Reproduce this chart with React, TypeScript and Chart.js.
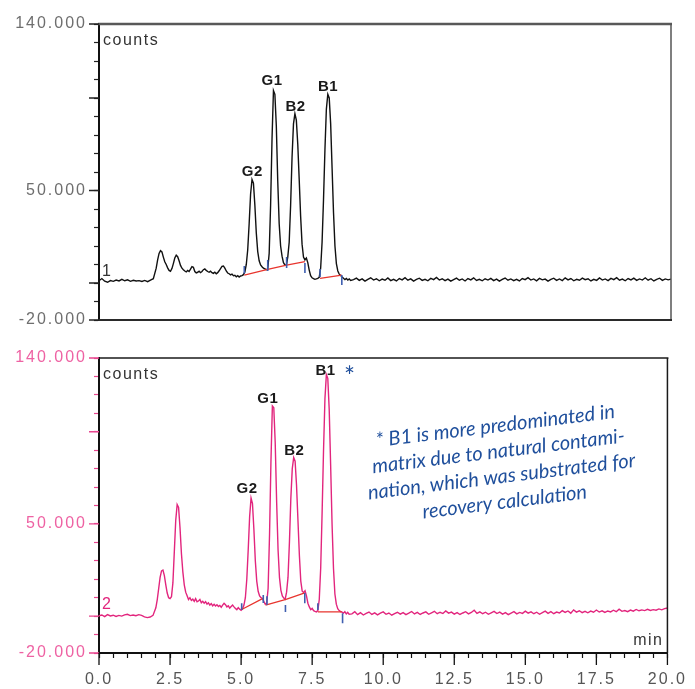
import React, { useEffect, useRef } from "react";
import { Chart, registerables } from "chart.js";

Chart.register(...registerables);

// Retention time (min) of every sampled point
const timeMin = [
  0, 0.1, 0.2, 0.3, 0.4, 0.5, 0.6, 0.7, 0.8, 0.9, 1, 1.1, 1.2, 1.3, 1.4, 1.5, 1.6, 1.7, 1.8, 1.9,
  2, 2.05, 2.1, 2.15, 2.2, 2.25, 2.3, 2.35, 2.4, 2.45,
  2.5, 2.55, 2.6, 2.65, 2.7, 2.75, 2.8, 2.85, 2.9, 2.95,
  3, 3.05, 3.1, 3.15, 3.2, 3.25, 3.3, 3.35, 3.4, 3.45,
  3.5, 3.55, 3.6, 3.65, 3.7, 3.75, 3.8, 3.85, 3.9, 3.95,
  4, 4.05, 4.1, 4.15, 4.2, 4.25, 4.3, 4.35, 4.4, 4.45,
  4.5, 4.55, 4.6, 4.65, 4.7, 4.75, 4.8, 4.85, 4.9, 4.95,
  5, 5.05, 5.1, 5.15, 5.2, 5.25, 5.3, 5.35, 5.4, 5.45,
  5.5, 5.55, 5.6, 5.65, 5.7, 5.75, 5.8, 5.85, 5.9, 5.95,
  6, 6.05, 6.1, 6.15, 6.2, 6.25, 6.3, 6.35, 6.4, 6.45,
  6.5, 6.55, 6.6, 6.65, 6.7, 6.75, 6.8, 6.85, 6.9, 6.95,
  7, 7.05, 7.1, 7.15, 7.2, 7.25, 7.3, 7.35, 7.4, 7.45,
  7.5, 7.55, 7.6, 7.65, 7.7, 7.75, 7.8, 7.85, 7.9, 7.95,
  8, 8.05, 8.1, 8.15, 8.2, 8.25, 8.3, 8.35, 8.4, 8.45,
  8.5, 8.55, 8.6, 8.65, 8.7, 8.75, 8.8,
  8.9,
  9, 9.1, 9.2, 9.3, 9.4, 9.5, 9.6, 9.7, 9.8, 9.9,
  10, 10.1, 10.2, 10.3, 10.4, 10.5, 10.6, 10.7, 10.8, 10.9,
  11, 11.1, 11.2, 11.3, 11.4, 11.5, 11.6, 11.7, 11.8, 11.9,
  12, 12.1, 12.2, 12.3, 12.4, 12.5, 12.6, 12.7, 12.8, 12.9,
  13, 13.1, 13.2, 13.3, 13.4, 13.5, 13.6, 13.7, 13.8, 13.9,
  14, 14.1, 14.2, 14.3, 14.4, 14.5, 14.6, 14.7, 14.8, 14.9,
  15, 15.1, 15.2, 15.3, 15.4, 15.5, 15.6, 15.7, 15.8, 15.9,
  16, 16.1, 16.2, 16.3, 16.4, 16.5, 16.6, 16.7, 16.8, 16.9,
  17, 17.1, 17.2, 17.3, 17.4, 17.5, 17.6, 17.7, 17.8, 17.9,
  18, 18.1, 18.2, 18.3, 18.4, 18.5, 18.6, 18.7, 18.8, 18.9,
  19, 19.1, 19.2, 19.3, 19.4, 19.5, 19.6, 19.7, 19.8, 19.9,
  20,
];

// Trace 1 (standard), counts in thousands
const trace1Kcounts = [
  1.2, 2.4, 1.0, 0.4, 1.3, 0.9, 1.6, 1.1, 2.0, 1.2, 1.7, 0.9, 1.5, 1.1, 1.3, 0.8, 1.4, 0.7, 1.6, 2.3,
  8.0, 12.5, 16.0, 17.5, 16.8, 14.0, 11.5, 10.0, 8.2, 6.8,
  6.3, 7.8, 10.5, 13.5, 15.0, 14.2, 12.0, 9.5, 8.0, 7.2,
  6.5, 6.0, 6.8, 6.2, 7.5, 8.8, 8.5, 6.2, 5.5, 5.8,
  6.4, 5.6, 6.2, 7.2, 7.6, 6.8, 6.2, 5.8, 6.4, 5.6,
  5.2, 5.8, 5.0, 5.6, 6.6, 7.8, 9.0, 9.2, 8.0, 6.5,
  5.4, 5.0, 4.4, 4.8, 3.9, 4.2, 3.4, 4.0, 3.2, 3.8,
  4.0, 4.5, 6.0, 10.0, 18.0, 32.0, 48.0, 56.0, 54.0, 42.0,
  27.0, 17.0, 12.0, 9.8, 8.8, 8.0, 7.6, 7.2, 7.5, 16.0,
  42.0, 78.0, 104.0, 102.0, 85.0, 55.0, 32.0, 20.0, 14.5, 11.0,
  9.8, 9.5, 14.0, 22.0, 42.0, 68.0, 86.0, 91.5, 88.0, 75.0,
  56.0, 36.0, 21.0, 14.0, 12.5, 13.5, 11.0, 7.0, 4.0, 2.8,
  2.4, 2.0, 2.2, 2.5, 3.0, 8.0, 22.0, 45.0, 72.0, 94.0,
  102.0, 100.0, 86.0, 62.0, 38.0, 20.0, 10.5, 6.5, 4.8, 4.0,
  3.2, 2.6, 1.8, 2.4, 1.6, 2.2, 1.4,
  1.8,
  2.6, 1.4, 2.2, 1.0, 2.0, 2.8, 1.6, 2.3, 1.2, 2.1,
  1.5, 2.7, 1.3, 2.0, 1.1, 2.4, 1.7, 2.9, 1.5, 2.2,
  1.0, 1.9, 2.6, 1.4, 2.0, 1.2, 2.5, 1.8, 3.0, 1.6,
  2.3, 1.3, 2.1, 1.0, 1.8, 2.6, 1.5, 2.2, 1.1, 2.4,
  1.7, 2.8, 1.4, 2.0, 1.2, 2.3, 1.6, 2.5, 1.3, 2.1,
  1.0, 1.9, 2.7, 1.5, 2.2, 1.3, 2.0, 1.1, 2.4, 1.8,
  2.9, 1.6, 2.2, 1.2, 2.5, 1.7, 2.1, 1.0, 1.9, 2.6,
  1.4, 2.2, 1.3, 2.8, 1.7, 2.4, 1.2, 2.0, 1.5, 2.6,
  1.8, 2.3, 1.1, 2.0, 1.4, 2.7, 1.6, 2.2, 1.3, 2.5,
  1.8, 2.9, 1.5, 2.1, 1.2, 2.4, 1.7, 2.6, 1.4, 2.2,
  1.6, 2.8, 1.5, 2.3, 1.1, 2.0, 2.6, 1.4, 2.2, 1.7,
  2.1,
];

// Trace 2 (spiked matrix), counts in thousands
const trace2Kcounts = [
  0.2, 0.6, -0.3, 0.8, 0.1, 0.5, -0.2, 0.4, 0.0, 0.7, 1.0, 0.3, 0.6, 0.2, 0.8, 0.4, -0.4, -0.8, -0.5, 0.4,
  4.5, 9.0, 15.0, 21.0, 24.5, 25.0, 22.0, 17.0, 12.5, 10.0,
  9.5, 10.5, 18.0, 35.0, 52.0, 60.5, 59.0, 48.0, 34.0, 24.0,
  17.0, 13.0, 11.0, 9.0, 10.0, 8.5, 9.2, 8.0, 9.5, 7.8,
  8.2, 9.0, 7.2, 8.0, 7.0, 7.8, 6.5, 7.2, 6.0, 6.8,
  5.6, 6.4, 5.5, 6.2, 5.2, 5.8, 4.8, 6.0, 7.0, 6.2,
  5.0, 5.6, 4.4, 5.2, 6.0, 5.0, 4.2, 3.5, 4.6, 3.8,
  3.2, 4.0, 6.0, 10.0, 20.0, 36.0, 54.0, 64.0, 61.0, 47.0,
  30.0, 19.0, 13.5, 11.0, 10.0, 9.6, 8.0, 6.5, 7.0, 15.0,
  44.0, 84.0, 114.0, 113.0, 94.0, 62.0, 36.0, 21.0, 14.0, 11.0,
  9.8, 9.2, 13.0, 21.0, 40.0, 64.0, 80.0, 86.0, 84.0, 71.0,
  52.0, 33.0, 19.0, 13.5, 12.8, 13.8, 11.0, 7.0, 5.0, 3.5,
  4.2, 3.0, 2.6, 2.3, 3.0, 9.0, 26.0, 56.0, 90.0, 118.0,
  131.0, 129.0, 112.0, 82.0, 50.0, 26.0, 12.0, 6.5, 4.0, 3.0,
  2.5, 2.2, 1.6, 2.4, 1.2, 2.0, 1.0,
  1.2,
  2.4, 0.8, 1.9, 0.6, 1.5, 2.2, 0.9, 1.8, 0.7, 1.6,
  2.3, 1.0, 1.7, 0.5, 1.4, 2.1, 1.1, 1.9, 0.8, 1.6,
  2.5, 1.2, 2.0, 0.9, 1.7, 2.3, 1.0, 1.8, 2.6, 1.3,
  2.1, 1.4, 2.8, 1.6, 2.2, 1.1, 1.9, 0.9, 1.7, 2.4,
  1.2, 2.0, 3.2, 1.5, 2.3, 1.3, 2.1, 1.0, 1.8, 2.6,
  1.4, 2.2, 1.1, 1.9, 0.8, 1.6, 2.4, 1.2, 2.0, 1.5,
  2.7, 1.6, 2.3, 1.3, 2.1, 1.0, 1.9, 2.7, 1.5, 2.4,
  1.3, 2.2, 1.7, 3.0, 2.0, 2.8, 1.6, 3.4, 2.2, 2.9,
  1.9, 2.6, 1.8, 2.7, 2.1, 3.3, 2.2, 2.9, 2.0, 2.8,
  2.3, 3.2, 2.4, 3.8, 2.6, 3.0, 2.4, 3.3, 2.7, 3.6,
  2.9, 3.4, 3.0, 3.7, 3.1, 3.5, 3.2, 3.9, 3.4, 4.1,
  4.4,
];

// Axis labels
const yLabelValues = [140, 50, -20];
const yLabelTexts = ["140.000", "50.000", "-20.000"];
const yMajorTickValues = [140, 100, 50, 0, -20];
const xLabelValues = [0, 2.5, 5, 7.5, 10, 12.5, 15, 17.5, 20];
const xLabelTexts = ["0.0", "2.5", "5.0", "7.5", "10.0", "12.5", "15.0", "17.5", "20.0"];

// Peak labels (bottom-centre anchor of each label, in data units)
const peakNames = ["G2", "G1", "B2", "B1"];
const peakLabelTime1 = [5.36, 6.05, 6.87, 8.01];
const peakLabelValue1 = [57.3, 106.1, 92.1, 102.9];
const peakLabelTime2 = [5.21, 5.94, 6.87, 7.97];
const peakLabelValue2 = [66.2, 115.0, 86.4, 129.8];

// Integration baselines [t1, v1, t2, v2] and peak markers [t, low, high]
const baselineSegments1 = [[5.08, 4.3, 5.9, 7.4], [5.9, 7.4, 6.56, 9.7], [6.56, 9.7, 7.2, 11.5], [7.73, 2.5, 8.49, 4.3]];
const baselineSegments2 = [[5.02, 3.6, 5.77, 9.6], [5.86, 6.0, 6.58, 9.1], [6.58, 9.1, 7.24, 12.6], [7.7, 2.3, 8.54, 2.3]];
const markers1 = [[5.08, 5.2, 9.2], [5.9, 6.5, 12.4], [6.56, 8.1, 14.0], [7.2, 5.4, 10.8], [7.73, 3.2, 7.6], [8.49, -1.1, 4.3]];
const markers2 = [[5.02, 3.3, 7.0], [5.78, 7.1, 11.4], [5.91, 6.0, 10.8], [6.56, 2.2, 6.0], [7.24, 7.0, 12.5], [7.7, 3.3, 7.0], [8.57, -3.8, 1.6]];

const noteLines = [
  "* B1 is more predominated in",
  "matrix due to natural contami-",
  "nation, which was substrated for",
  "recovery calculation",
];

const SANS = "'Liberation Sans', Arial, sans-serif";
const PINK = "#e2257d";
const PINK_LABEL = "#ee62a3";
const NOTE_BLUE = "#1f4f9c";

function makeDecor(isTop: boolean) {
  return {
    id: isTop ? "decorTop" : "decorBottom",
    beforeDraw(chart: any) {
      chart.ctx.letterSpacing = "2px";
    },
    afterDraw(chart: any) {
      const ctx = chart.ctx as CanvasRenderingContext2D & { letterSpacing: string };
      const a = chart.chartArea;
      const xs = chart.scales.x;
      const ys = chart.scales.y;
      ctx.save();
      // frame
      ctx.lineCap = "butt";
      ctx.beginPath();
      ctx.strokeStyle = isTop ? "#585858" : "#1a1a1a";
      ctx.lineWidth = isTop ? 2.5 : 1.5;
      ctx.moveTo(a.left - 1, a.top);
      ctx.lineTo(a.right + 1, a.top);
      ctx.stroke();
      ctx.beginPath();
      ctx.strokeStyle = isTop ? "#555" : "#1a1a1a";
      ctx.lineWidth = 1.5;
      ctx.moveTo(a.right, a.top);
      ctx.lineTo(a.right, a.bottom);
      ctx.stroke();
      if (isTop) {
        ctx.beginPath();
        ctx.strokeStyle = "#2a2a2a";
        ctx.lineWidth = 2;
        ctx.moveTo(a.left - 1, a.bottom);
        ctx.lineTo(a.right + 1, a.bottom);
        ctx.stroke();
      }
      // long ticks
      ctx.beginPath();
      ctx.strokeStyle = isTop ? "#222" : "#e8458f";
      ctx.lineWidth = 1.3;
      yMajorTickValues.forEach((v) => {
        const py = ys.getPixelForValue(v);
        ctx.moveTo(a.left - 10, py);
        ctx.lineTo(a.left, py);
      });
      ctx.stroke();
      if (!isTop) {
        ctx.beginPath();
        ctx.strokeStyle = "#111";
        ctx.lineWidth = 1.3;
        xLabelValues.forEach((v) => {
          const px = xs.getPixelForValue(v);
          ctx.moveTo(px, a.bottom);
          ctx.lineTo(px, a.bottom + 12);
        });
        ctx.stroke();
      }
      // texts
      ctx.letterSpacing = "1.5px";
      ctx.font = `16px ${SANS}`;
      ctx.textBaseline = "alphabetic";
      ctx.textAlign = "left";
      ctx.fillStyle = "#333";
      ctx.fillText("counts", a.left + 4, a.top + 21);
      ctx.fillStyle = isTop ? "#333" : PINK;
      ctx.fillText(isTop ? "1" : "2", a.left + 3, ys.getPixelForValue(0) - 7);
      if (!isTop) {
        ctx.fillStyle = "#333";
        ctx.textAlign = "right";
        ctx.fillText("min", a.right - 4, a.bottom - 8);
      }
      // peak labels
      ctx.letterSpacing = "0.5px";
      ctx.font = `bold 15px ${SANS}`;
      ctx.fillStyle = "#1a1a1a";
      ctx.textAlign = "center";
      ctx.textBaseline = "bottom";
      const lt = isTop ? peakLabelTime1 : peakLabelTime2;
      const lv = isTop ? peakLabelValue1 : peakLabelValue2;
      peakNames.forEach((name, i) => {
        ctx.fillText(name, xs.getPixelForValue(lt[i]), ys.getPixelForValue(lv[i]) + 2);
      });
      if (!isTop) {
        // asterisk next to B1
        ctx.letterSpacing = "0px";
        ctx.fillStyle = NOTE_BLUE;
        ctx.font = `26px Lato, ${SANS}`;
        ctx.textAlign = "center";
        ctx.textBaseline = "middle";
        ctx.fillText("*", xs.getPixelForValue(lt[3]) + 24, ys.getPixelForValue(lv[3]) + 1);
        // note
        ctx.save();
        ctx.translate(a.left + 401, a.top + 106);
        ctx.rotate((-7 * Math.PI) / 180);
        ctx.font = `italic 20px Lato, 'Open Sans', sans-serif`;
        ctx.fillStyle = NOTE_BLUE;
        noteLines.forEach((line, i) => {
          ctx.fillText(line, 0, (i - 1.5) * 25.5);
        });
        ctx.restore();
      }
      ctx.restore();
      ctx.letterSpacing = "0px";
    },
  };
}

function buildChart(canvas: HTMLCanvasElement, isTop: boolean) {
  const values = isTop ? trace1Kcounts : trace2Kcounts;
  const n = Math.min(timeMin.length, values.length);
  const tracePts: { x: number; y: number | null }[] = [];
  for (let i = 0; i < n; i++) tracePts.push({ x: timeMin[i], y: values[i] });
  const redPts: { x: number; y: number | null }[] = [];
  (isTop ? baselineSegments1 : baselineSegments2).forEach(([t1, v1, t2, v2]) => {
    redPts.push({ x: t1, y: v1 }, { x: t2, y: v2 }, { x: t2, y: null });
  });
  const bluePts: { x: number; y: number | null }[] = [];
  (isTop ? markers1 : markers2).forEach(([t, lo, hi]) => {
    bluePts.push({ x: t, y: lo }, { x: t, y: hi }, { x: t, y: null });
  });
  const yLabelColor = isTop ? "#6e6e6e" : PINK_LABEL;
  const yTickColor = isTop ? "#222" : "#e8458f";

  const xScale: any = {
    type: "linear",
    min: 0,
    max: 20,
    display: !isTop,
    ticks: {
      stepSize: 0.5,
      autoSkip: false,
      maxRotation: 0,
      minRotation: 0,
      color: "#555",
      padding: 12,
      font: { family: SANS, size: 16 },
      callback: (v: any) => {
        const i = xLabelValues.findIndex((x) => Math.abs(x - Number(v)) < 1e-6);
        return i >= 0 ? xLabelTexts[i] : "";
      },
    },
    grid: { drawOnChartArea: false, drawTicks: true, tickLength: 5, tickColor: "#111", tickWidth: 1.2 },
    border: { display: true, color: "#111", width: 2 },
  };
  if (!isTop) {
    xScale.afterFit = (s: any) => {
      s.height = 36;
    };
  }

  return new Chart(canvas, {
    type: "line",
    data: {
      datasets: [
        { data: bluePts as any, borderColor: "#3f5fb0", borderWidth: 1.6, pointRadius: 0, spanGaps: false, order: 0 },
        { data: redPts as any, borderColor: "#e8352e", borderWidth: 1.3, pointRadius: 0, spanGaps: false, order: 1 },
        { data: tracePts as any, borderColor: isTop ? "#111" : PINK, borderWidth: 1.4, pointRadius: 0, order: 2 },
      ],
    },
    options: {
      animation: false,
      responsive: false,
      events: [],
      plugins: { legend: { display: false }, tooltip: { enabled: false } },
      layout: { padding: { left: 0, right: 24, top: isTop ? 24 : 18, bottom: isTop ? 20 : 0 } },
      scales: {
        x: xScale,
        y: {
          type: "linear",
          min: -20,
          max: 140,
          ticks: {
            stepSize: 10,
            autoSkip: false,
            color: yLabelColor,
            padding: 7,
            font: { family: SANS, size: 16 },
            callback: (v: any) => {
              const i = yLabelValues.indexOf(Math.round(Number(v)));
              return i >= 0 ? yLabelTexts[i] : "";
            },
          },
          grid: { drawOnChartArea: false, drawTicks: true, tickLength: 5, tickColor: yTickColor, tickWidth: 1.2 },
          border: { display: true, color: "#111", width: 2 },
          afterFit: (s: any) => {
            s.width = 99;
          },
        } as any,
      },
    },
    plugins: [makeDecor(isTop)],
  });
}

export default function App() {
  const topRef = useRef<HTMLCanvasElement>(null);
  const botRef = useRef<HTMLCanvasElement>(null);
  useEffect(() => {
    const c1 = buildChart(topRef.current!, true);
    const c2 = buildChart(botRef.current!, false);
    return () => {
      c1.destroy();
      c2.destroy();
    };
  }, []);
  return (
    <div style={{ position: "absolute", left: 0, top: 0, width: 695, height: 689, background: "#fff" }}>
      <canvas ref={topRef} width={695} height={340} style={{ position: "absolute", left: 0, top: 0, width: 695, height: 340 }} />
      <canvas ref={botRef} width={695} height={349} style={{ position: "absolute", left: 0, top: 340, width: 695, height: 349 }} />
    </div>
  );
}
